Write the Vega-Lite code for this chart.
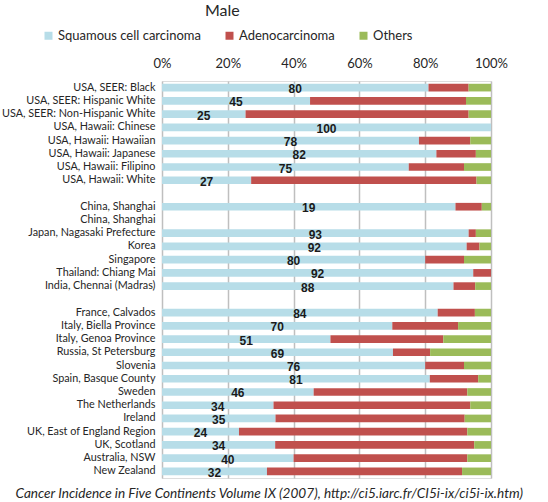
{
  "$schema": "https://vega.github.io/schema/vega-lite/v6.json",
  "width": 329,
  "height": 397,
  "autosize": {"type": "none"},
  "padding": {"left": 162, "top": 81, "right": 57, "bottom": 24},
  "background": "white",
  "title": {"text": "Male", "anchor": "start", "frame": "group", "dx": 43, "offset": 10, "font": "Lato", "fontSize": 16, "fontWeight": "normal", "color": "#262626"},
  "data": {"values": [
    {"r": "USA, SEER: Black", "t": "Squamous cell carcinoma", "k": 1, "p": 81.0, "n": 80},
    {"r": "USA, SEER: Black", "t": "Adenocarcinoma", "k": 2, "p": 12.2},
    {"r": "USA, SEER: Black", "t": "Others", "k": 3, "p": 6.8},
    {"r": "USA, SEER: Hispanic White", "t": "Squamous cell carcinoma", "k": 1, "p": 45.0, "n": 45},
    {"r": "USA, SEER: Hispanic White", "t": "Adenocarcinoma", "k": 2, "p": 47.4},
    {"r": "USA, SEER: Hispanic White", "t": "Others", "k": 3, "p": 7.6},
    {"r": "USA, SEER: Non-Hispanic White", "t": "Squamous cell carcinoma", "k": 1, "p": 25.4, "n": 25},
    {"r": "USA, SEER: Non-Hispanic White", "t": "Adenocarcinoma", "k": 2, "p": 67.8},
    {"r": "USA, SEER: Non-Hispanic White", "t": "Others", "k": 3, "p": 6.8},
    {"r": "USA, Hawaii: Chinese", "t": "Squamous cell carcinoma", "k": 1, "p": 100, "n": 100},
    {"r": "USA, Hawaii: Hawaiian", "t": "Squamous cell carcinoma", "k": 1, "p": 78.1, "n": 78},
    {"r": "USA, Hawaii: Hawaiian", "t": "Adenocarcinoma", "k": 2, "p": 15.6},
    {"r": "USA, Hawaii: Hawaiian", "t": "Others", "k": 3, "p": 6.3},
    {"r": "USA, Hawaii: Japanese", "t": "Squamous cell carcinoma", "k": 1, "p": 83.4, "n": 82},
    {"r": "USA, Hawaii: Japanese", "t": "Adenocarcinoma", "k": 2, "p": 12.0},
    {"r": "USA, Hawaii: Japanese", "t": "Others", "k": 3, "p": 4.6},
    {"r": "USA, Hawaii: Filipino", "t": "Squamous cell carcinoma", "k": 1, "p": 75.0, "n": 75},
    {"r": "USA, Hawaii: Filipino", "t": "Adenocarcinoma", "k": 2, "p": 16.8},
    {"r": "USA, Hawaii: Filipino", "t": "Others", "k": 3, "p": 8.2},
    {"r": "USA, Hawaii: White", "t": "Squamous cell carcinoma", "k": 1, "p": 27.1, "n": 27},
    {"r": "USA, Hawaii: White", "t": "Adenocarcinoma", "k": 2, "p": 68.5},
    {"r": "USA, Hawaii: White", "t": "Others", "k": 3, "p": 4.4},
    {"r": "China, Shanghai", "t": "Squamous cell carcinoma", "k": 1, "p": 89.2, "n": 19},
    {"r": "China, Shanghai", "t": "Adenocarcinoma", "k": 2, "p": 8.0},
    {"r": "China, Shanghai", "t": "Others", "k": 3, "p": 2.8},
    {"r": "Japan, Nagasaki Prefecture", "t": "Squamous cell carcinoma", "k": 1, "p": 93.2, "n": 93},
    {"r": "Japan, Nagasaki Prefecture", "t": "Adenocarcinoma", "k": 2, "p": 2.2},
    {"r": "Japan, Nagasaki Prefecture", "t": "Others", "k": 3, "p": 4.6},
    {"r": "Korea", "t": "Squamous cell carcinoma", "k": 1, "p": 92.6, "n": 92},
    {"r": "Korea", "t": "Adenocarcinoma", "k": 2, "p": 3.9},
    {"r": "Korea", "t": "Others", "k": 3, "p": 3.5},
    {"r": "Singapore", "t": "Squamous cell carcinoma", "k": 1, "p": 80.0, "n": 80},
    {"r": "Singapore", "t": "Adenocarcinoma", "k": 2, "p": 11.8},
    {"r": "Singapore", "t": "Others", "k": 3, "p": 8.2},
    {"r": "Thailand: Chiang Mai", "t": "Squamous cell carcinoma", "k": 1, "p": 94.6, "n": 92},
    {"r": "Thailand: Chiang Mai", "t": "Adenocarcinoma", "k": 2, "p": 5.4},
    {"r": "India, Chennai (Madras)", "t": "Squamous cell carcinoma", "k": 1, "p": 88.6, "n": 88},
    {"r": "India, Chennai (Madras)", "t": "Adenocarcinoma", "k": 2, "p": 6.6},
    {"r": "India, Chennai (Madras)", "t": "Others", "k": 3, "p": 4.8},
    {"r": "France, Calvados", "t": "Squamous cell carcinoma", "k": 1, "p": 83.8, "n": 84},
    {"r": "France, Calvados", "t": "Adenocarcinoma", "k": 2, "p": 11.3},
    {"r": "France, Calvados", "t": "Others", "k": 3, "p": 4.9},
    {"r": "Italy, Biella Province", "t": "Squamous cell carcinoma", "k": 1, "p": 70.0, "n": 70},
    {"r": "Italy, Biella Province", "t": "Adenocarcinoma", "k": 2, "p": 20.0},
    {"r": "Italy, Biella Province", "t": "Others", "k": 3, "p": 10.0},
    {"r": "Italy, Genoa Province", "t": "Squamous cell carcinoma", "k": 1, "p": 51.2, "n": 51},
    {"r": "Italy, Genoa Province", "t": "Adenocarcinoma", "k": 2, "p": 34.3},
    {"r": "Italy, Genoa Province", "t": "Others", "k": 3, "p": 14.5},
    {"r": "Russia, St Petersburg", "t": "Squamous cell carcinoma", "k": 1, "p": 70.2, "n": 69},
    {"r": "Russia, St Petersburg", "t": "Adenocarcinoma", "k": 2, "p": 11.3},
    {"r": "Russia, St Petersburg", "t": "Others", "k": 3, "p": 18.5},
    {"r": "Slovenia", "t": "Squamous cell carcinoma", "k": 1, "p": 80.0, "n": 76},
    {"r": "Slovenia", "t": "Adenocarcinoma", "k": 2, "p": 11.8},
    {"r": "Slovenia", "t": "Others", "k": 3, "p": 8.2},
    {"r": "Spain, Basque County", "t": "Squamous cell carcinoma", "k": 1, "p": 81.4, "n": 81},
    {"r": "Spain, Basque County", "t": "Adenocarcinoma", "k": 2, "p": 14.7},
    {"r": "Spain, Basque County", "t": "Others", "k": 3, "p": 3.9},
    {"r": "Sweden", "t": "Squamous cell carcinoma", "k": 1, "p": 46.1, "n": 46},
    {"r": "Sweden", "t": "Adenocarcinoma", "k": 2, "p": 46.7},
    {"r": "Sweden", "t": "Others", "k": 3, "p": 7.2},
    {"r": "The Netherlands", "t": "Squamous cell carcinoma", "k": 1, "p": 33.9, "n": 34},
    {"r": "The Netherlands", "t": "Adenocarcinoma", "k": 2, "p": 59.8},
    {"r": "The Netherlands", "t": "Others", "k": 3, "p": 6.3},
    {"r": "Ireland", "t": "Squamous cell carcinoma", "k": 1, "p": 34.5, "n": 35},
    {"r": "Ireland", "t": "Adenocarcinoma", "k": 2, "p": 57.5},
    {"r": "Ireland", "t": "Others", "k": 3, "p": 8.0},
    {"r": "UK, East of England Region", "t": "Squamous cell carcinoma", "k": 1, "p": 23.4, "n": 24},
    {"r": "UK, East of England Region", "t": "Adenocarcinoma", "k": 2, "p": 69.4},
    {"r": "UK, East of England Region", "t": "Others", "k": 3, "p": 7.2},
    {"r": "UK, Scotland", "t": "Squamous cell carcinoma", "k": 1, "p": 34.4, "n": 34},
    {"r": "UK, Scotland", "t": "Adenocarcinoma", "k": 2, "p": 60.5},
    {"r": "UK, Scotland", "t": "Others", "k": 3, "p": 5.1},
    {"r": "Australia, NSW", "t": "Squamous cell carcinoma", "k": 1, "p": 40.0, "n": 40},
    {"r": "Australia, NSW", "t": "Adenocarcinoma", "k": 2, "p": 52.8},
    {"r": "Australia, NSW", "t": "Others", "k": 3, "p": 7.2},
    {"r": "New Zealand", "t": "Squamous cell carcinoma", "k": 1, "p": 31.9, "n": 32},
    {"r": "New Zealand", "t": "Adenocarcinoma", "k": 2, "p": 59.3},
    {"r": "New Zealand", "t": "Others", "k": 3, "p": 8.8}
  ]},
  "layer": [
    {
      "mark": {"type": "bar"},
      "encoding": {
        "y": {
          "field": "r", "type": "nominal", "sort": null,
          "scale": {"domain": ["USA, SEER: Black", "USA, SEER: Hispanic White", "USA, SEER: Non-Hispanic White", "USA, Hawaii: Chinese", "USA, Hawaii: Hawaiian", "USA, Hawaii: Japanese", "USA, Hawaii: Filipino", "USA, Hawaii: White", " ", "China, Shanghai", "China, Shanghai ", "Japan, Nagasaki Prefecture", "Korea", "Singapore", "Thailand: Chiang Mai", "India, Chennai (Madras)", "  ", "France, Calvados", "Italy, Biella Province", "Italy, Genoa Province", "Russia, St Petersburg", "Slovenia", "Spain, Basque County", "Sweden", "The Netherlands", "Ireland", "UK, East of England Region", "UK, Scotland", "Australia, NSW", "New Zealand"], "paddingInner": 0.42, "paddingOuter": 0.21},
          "axis": {"title": null, "ticks": false, "domain": false, "grid": false, "labelPadding": 7, "labelFont": "Lato", "labelFontSize": 10.8, "labelColor": "#262626", "labelExpr": "trim(datum.label)", "labelLimit": 0}
        },
        "x": {
          "field": "p", "type": "quantitative", "stack": "zero",
          "scale": {"domain": [0, 100], "nice": false},
          "axis": {"orient": "top", "title": null, "values": [0, 20, 40, 60, 80, 100], "labelExpr": "datum.value + '%'", "ticks": false, "domain": false, "grid": true, "gridColor": "#bfbfbf", "gridWidth": 1.5, "labelFont": "Lato", "labelFontSize": 13, "labelPadding": 11, "labelColor": "#262626", "labelFlush": false, "labelOverlap": false}
        },
        "color": {
          "field": "t", "type": "nominal",
          "scale": {"domain": ["Squamous cell carcinoma", "Adenocarcinoma", "Others"], "range": ["#b7dde8", "#c0504d", "#9bbb59"]},
          "legend": {"orient": "none", "legendX": -120, "legendY": -52, "direction": "horizontal", "title": null, "symbolType": "square", "symbolSize": 64, "symbolStrokeWidth": 0, "labelFont": "Lato", "labelFontSize": 13, "labelOffset": 3, "columnPadding": 22, "padding": 0, "labelColor": "#262626"}
        },
        "order": {"field": "k", "type": "quantitative"}
      }
    },
    {
      "transform": [{"filter": "datum.t === 'Squamous cell carcinoma'"}],
      "mark": {"type": "text", "font": "Liberation Sans", "fontWeight": "bold", "fontSize": 12, "baseline": "middle", "dy": 1.5, "color": "#1a1a1a"},
      "encoding": {
        "y": {"field": "r", "type": "nominal", "sort": null},
        "x": {
          "field": "p", "type": "quantitative",
          "scale": {"domain": [0, 200], "nice": false},
          "axis": {"orient": "bottom", "labels": false, "ticks": false, "domain": false, "grid": false, "title": "Cancer Incidence in Five Continents Volume IX (2007), http://ci5.iarc.fr/CI5i-ix/ci5i-ix.htm)", "titleFont": "Lato", "titleFontSize": 13.6, "titleFontStyle": "italic", "titleFontWeight": "normal", "titleX": -147, "titleY": 15, "titleAlign": "left", "titleBaseline": "middle", "titleColor": "#262626"}
        },
        "text": {"field": "n"}
      }
    }
  ],
  "resolve": {"scale": {"x": "independent"}}
}
